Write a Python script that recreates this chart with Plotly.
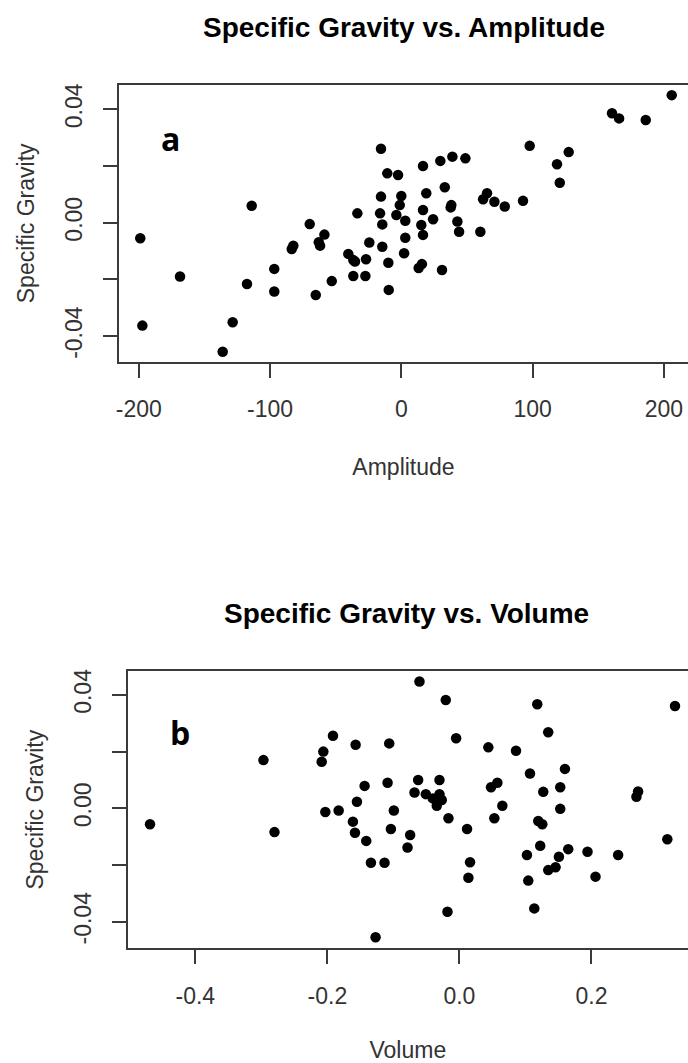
import plotly.graph_objects as go

# ---------------- data ----------------
amp_x = [-198.9, -197.3, -168.6, -136.1, -128.5, -117.6, -114.0, -96.8, -96.8, -83.5,
         -82.3, -69.8, -65.2, -62.9, -61.9, -58.6, -53.0, -40.4, -36.6, -35.3,
         -36.6, -33.5, -26.9, -27.4, -24.4, -15.5, -15.5, -16.2, -14.5, -14.5,
         -9.9, -9.6, -10.7, -2.5, 0.0, -1.2, -3.8, 3.0, 3.0, 2.1,
         16.5, 29.7, 38.9, 48.8, 19.0, 33.1, 16.5, 24.2, 15.2, 16.5,
         38.1, 37.6, 42.7, 44.0, 60.2, 13.2, 15.7, 31.0, 62.3, 65.3,
         70.9, 78.8, 92.7, 97.8, 118.6, 120.7, 127.5, 160.5, 165.9, 186.2,
         206.0]
amp_y = [-0.0055, -0.0363, -0.0190, -0.0455, -0.0351, -0.0216, 0.0060, -0.0163, -0.0243, -0.0093,
         -0.0081, -0.0005, -0.0255, -0.0069, -0.0081, -0.0042, -0.0206, -0.0110, -0.0132, -0.0137,
         -0.0188, 0.0033, -0.0129, -0.0188, -0.0070, 0.0261, 0.0092, 0.0033, -0.0006, -0.0085,
         -0.0141, -0.0237, 0.0174, 0.0168, 0.0094, 0.0062, 0.0027, 0.0007, -0.0053, -0.0108,
         0.0200, 0.0218, 0.0233, 0.0227, 0.0104, 0.0125, 0.0045, 0.0012, -0.0008, -0.0043,
         0.0062, 0.0054, 0.0004, -0.0032, -0.0032, -0.0160, -0.0146, -0.0167, 0.0083, 0.0104,
         0.0074, 0.0057, 0.0077, 0.0271, 0.0206, 0.0141, 0.0249, 0.0386, 0.0368, 0.0362,
         0.0450]

vol_x = [-0.4686, -0.2968, -0.2801, -0.2061, -0.2086, -0.1915, -0.2031, -0.1829, -0.1572, -0.1436,
         -0.1552, -0.1613, -0.1582, -0.1411, -0.1340, -0.1134, -0.1270, -0.1063, -0.1088, -0.0993,
         -0.1038, -0.0605, -0.0207, -0.0050, -0.0625, -0.0302, -0.0680, -0.0509, -0.0403, -0.0302,
         -0.0267, -0.0343, -0.0328, -0.0166, -0.0746, -0.0786, 0.0116, 0.0161, 0.0136, -0.0181,
         0.0438, 0.0479, 0.0575, 0.0650, 0.0529, 0.0857, 0.1179, 0.1345, 0.1069, 0.1598,
         0.1270, 0.1527, 0.1527, 0.1194, 0.1255, 0.1224, 0.1023, 0.1043, 0.1134, 0.1507,
         0.1345, 0.1456, 0.1648, 0.1940, 0.2061, 0.2404, 0.2706, 0.2681, 0.3149, 0.3265]
vol_y = [-0.0056, 0.0170, -0.0084, 0.0200, 0.0164, 0.0256, -0.0013, -0.0008, 0.0224, 0.0079,
         0.0023, -0.0047, -0.0086, -0.0115, -0.0192, -0.0192, -0.0455, 0.0229, 0.0090, -0.0008,
         -0.0073, 0.0447, 0.0382, 0.0247, 0.0100, 0.0100, 0.0056, 0.0050, 0.0035, 0.0050,
         0.0029, 0.0009, 0.0023, -0.0035, -0.0094, -0.0138, -0.0073, -0.0190, -0.0245, -0.0365,
         0.0215, 0.0074, 0.0090, 0.0009, -0.0035, 0.0203, 0.0367, 0.0268, 0.0123, 0.0139,
         0.0058, 0.0074, -0.0002, -0.0045, -0.0056, -0.0132, -0.0165, -0.0255, -0.0353, -0.0171,
         -0.0218, -0.0208, -0.0144, -0.0153, -0.0241, -0.0165, 0.0059, 0.0041, -0.0109, 0.0361]

amp_ticks = [-200, -100, 0, 100, 200]
amp_ticktext = ["-200", "-100", "0", "100", "200"]
vol_ticks = [-0.4, -0.2, 0.0, 0.2]
vol_ticktext = ["-0.4", "-0.2", "0.0", "0.2"]
sg_ticks = [-0.04, -0.02, 0.0, 0.02, 0.04]
sg_ticktext = ["-0.04", "", "0.00", "", "0.04"]

title_a = "Specific Gravity vs. Amplitude"
title_b = "Specific Gravity vs. Volume"

# ---------------- figure ----------------
W, H = 688, 1063
FONT = "Liberation Sans, Arial, sans-serif"
AXC = "#3a3a3a"
TXT = "#333333"

fig = go.Figure()
fig.add_trace(go.Scatter(x=amp_x, y=amp_y, mode="markers", xaxis="x", yaxis="y",
                         marker=dict(color="black", size=10.5), showlegend=False))
fig.add_trace(go.Scatter(x=vol_x, y=vol_y, mode="markers", xaxis="x2", yaxis="y2",
                         marker=dict(color="black", size=10.5), showlegend=False))

common_x = dict(showgrid=False, zeroline=False, showline=True, linecolor=AXC, linewidth=1.5,
                mirror=True, ticks="outside", ticklen=14, tickwidth=1.5, tickcolor=AXC,
                ticklabelstandoff=12,
                tickfont=dict(family=FONT, size=23, color=TXT), automargin=False,
                title_font=dict(family=FONT, size=23, color=TXT))
common_y = dict(showgrid=False, zeroline=False, showline=True, linecolor=AXC, linewidth=1.5,
                mirror=False, ticks="outside", ticklen=14, tickwidth=1.5, tickcolor=AXC,
                ticklabelstandoff=12,
                tickfont=dict(family=FONT, size=23, color=TXT), tickangle=-90, automargin=False,
                title_font=dict(family=FONT, size=23, color=TXT))

fig.update_layout(
    width=W, height=H, margin=dict(l=0, r=0, t=0, b=0),
    paper_bgcolor="white", plot_bgcolor="white",
    xaxis=dict(common_x, domain=[119 / W, 1], anchor="y", range=[-215.1, 218.4],
               tickvals=amp_ticks, ticktext=amp_ticktext,
               title=dict(text="Amplitude", standoff=38)),
    yaxis=dict(common_y, domain=[1 - 362 / H, 1 - 84.7 / H], anchor="x",
               range=[-0.04914, 0.04868], tickvals=sg_ticks, ticktext=sg_ticktext,
               title=dict(text="Specific Gravity", standoff=20)),
    xaxis2=dict(common_x, domain=[127.7 / W, 1], anchor="y2", range=[-0.5024, 0.3462],
                tickvals=vol_ticks, ticktext=vol_ticktext,
                title=dict(text="Volume", standoff=38)),
    yaxis2=dict(common_y, domain=[1 - 948.3 / H, 1 - 671 / H], anchor="x2",
                range=[-0.04938, 0.04843], tickvals=sg_ticks, ticktext=sg_ticktext,
                title=dict(text="Specific Gravity", standoff=20)),
)

annots = [
    dict(text="<b>" + title_a + "</b>", x=404 / W, y=1 - 27 / H),
    dict(text="<b>" + title_b + "</b>", x=406 / W, y=1 - 613 / H),
]
for a in annots:
    fig.add_annotation(xref="paper", yref="paper", x=a["x"], y=a["y"], text=a["text"],
                       showarrow=False, xanchor="center", yanchor="middle",
                       font=dict(family=FONT, size=28, color="black"))

for lab, x, y in [("a", 170, 138), ("b", 180, 732)]:
    fig.add_annotation(xref="paper", yref="paper", x=x / W, y=1 - y / H, text="<b>" + lab + "</b>",
                       showarrow=False, xanchor="center", yanchor="middle",
                       font=dict(family="Open Sans, Liberation Sans, sans-serif", size=32, color="black"))

fig.write_html("out.html")
